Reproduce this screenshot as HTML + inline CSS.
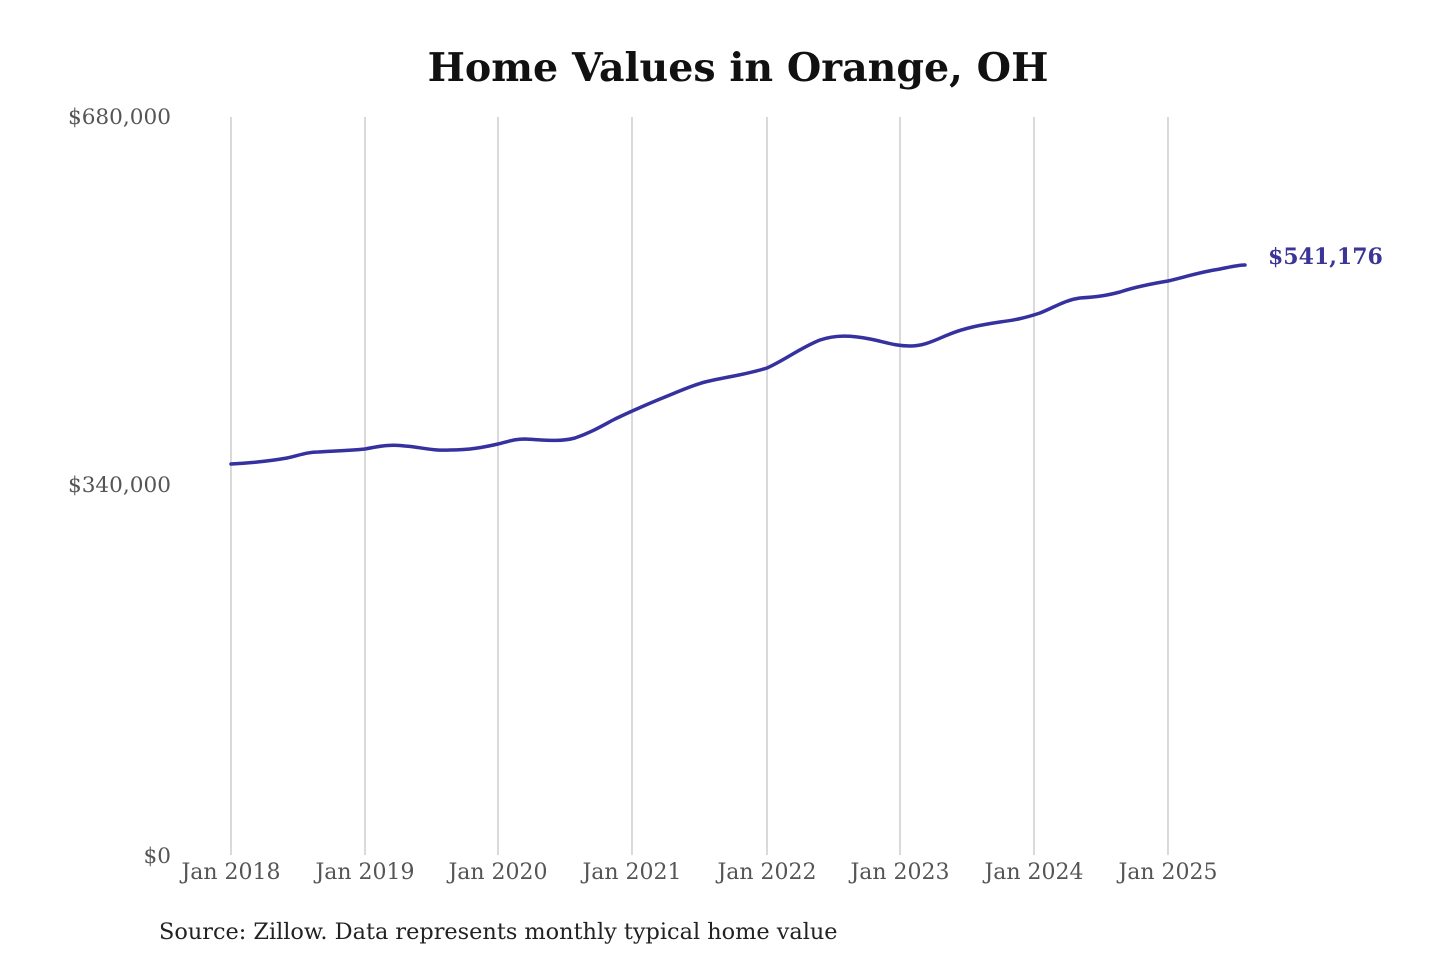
<!DOCTYPE html>
<html><head><meta charset="utf-8"><style>
html,body{margin:0;padding:0;background:#fff;}
svg{display:block;}
</style></head><body>
<svg width="1440" height="960" xmlns="http://www.w3.org/2000/svg" font-family="'DejaVu Serif','Liberation Serif',serif">
<rect width="1440" height="960" fill="#fff"/>
<text x="738" y="81" text-anchor="middle" font-size="39.5" font-weight="bold" fill="#111">Home Values in Orange, OH</text>
<g stroke="#c0c0c0" stroke-width="1.2">
<line x1="231" y1="117" x2="231" y2="855"/>
<line x1="365" y1="117" x2="365" y2="855"/>
<line x1="498" y1="117" x2="498" y2="855"/>
<line x1="632" y1="117" x2="632" y2="855"/>
<line x1="767" y1="117" x2="767" y2="855"/>
<line x1="900" y1="117" x2="900" y2="855"/>
<line x1="1034" y1="117" x2="1034" y2="855"/>
<line x1="1168" y1="117" x2="1168" y2="855"/>
</g>
<g font-size="21.6" fill="#555" text-anchor="end">
<text x="171" y="124">$680,000</text>
<text x="171" y="492">$340,000</text>
<text x="171" y="863">$0</text>
</g>
<g font-size="22" fill="#555" text-anchor="middle">
<text x="231" y="879">Jan 2018</text>
<text x="365" y="879">Jan 2019</text>
<text x="498" y="879">Jan 2020</text>
<text x="632" y="879">Jan 2021</text>
<text x="767" y="879">Jan 2022</text>
<text x="900" y="879">Jan 2023</text>
<text x="1034" y="879">Jan 2024</text>
<text x="1168" y="879">Jan 2025</text>
</g>
<path fill="none" stroke="#3532a0" stroke-width="3.5" stroke-linejoin="round" stroke-linecap="round"
d="M231,464 C250,463 270,461 287,458 C300,455 308,452 318,452 C330,451 345,451 365,449 C380,446 392,444 405,446 C420,447 432,451 450,450 C470,450 485,447 498,444 C510,441 515,439 525,439 C545,440 560,442 575,438 C590,433 600,427 615,419 C632,411 650,403 665,397 C680,391 690,386 705,382 C725,377 745,375 767,368 C785,360 800,348 820,340 C835,335 850,335 870,339 C885,342 895,346 910,346 C925,346 935,340 950,334 C965,328 980,325 1000,322 C1015,320 1025,318 1040,313 C1055,307 1065,300 1080,298 C1095,297 1105,296 1120,292 C1135,287 1150,284 1168,281 C1185,277 1200,272 1220,269 C1230,267 1238,265 1245,265"/>
<text x="1268" y="264" font-size="22" font-weight="bold" fill="#3a3596">$541,176</text>
<text x="159" y="939" font-size="22.4" fill="#222">Source: Zillow. Data represents monthly typical home value</text>
</svg>
</body></html>
